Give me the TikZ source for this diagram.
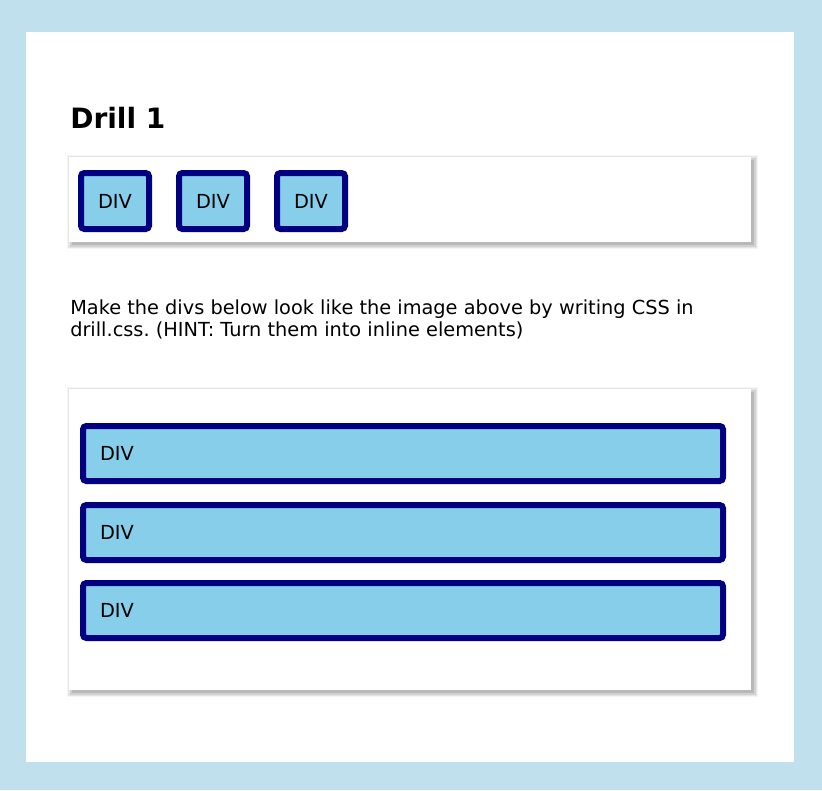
\documentclass[tikz,border=0pt]{standalone}
\usepackage{fontspec}
\setmainfont{DejaVu Sans}
\usepackage{xcolor}
\usetikzlibrary{positioning}
\definecolor{pagebg}{HTML}{C0E0EE}
\definecolor{navyline}{HTML}{000080}
\definecolor{skyfill}{HTML}{87CEEB}
\frenchspacing

\begin{document}
\begin{tikzpicture}[
    x=0.75pt, y=-0.75pt,
    divbox/.style={draw=navyline, fill=skyfill, line width=4.5pt, rounded corners=2.5pt, minimum width=51pt, minimum height=42pt, inner sep=0pt, font=\fontsize{14.5}{17}\selectfont},
    rowbox/.style={draw=navyline, fill=skyfill, line width=4.5pt, rounded corners=2.5pt, minimum height=41.25pt, text width=454.5pt, inner xsep=12.75pt, inner ysep=0pt, align=left, font=\fontsize{14.5}{17}\selectfont},
    body/.style={font=\fontsize{14.5}{16.5}\selectfont, align=left, inner sep=0pt}
]
% page
\useasboundingbox (0,0) rectangle (822,790);
\fill[pagebg] (0,0) rectangle (822,790);
\fill[white] (26,32) rectangle (794,762);

\node[anchor=base west, inner sep=0pt, font=\fontsize{21}{25}\bfseries] (title) at (70,128) {Drill 1};

% cards with soft shadow
\foreach \top/\bot in {157/242, 389/690} {
  \fill[black!4] (67,\top-2) rectangle (758,\bot+7);
  \fill[black!10] (68,\top-1) rectangle (757,\bot+6);
  \fill[black!18] (70,\top+1) rectangle (756,\bot+5);
  \fill[black!28] (72,\top+3) rectangle (754,\bot+3);
  \fill[white] (69,\top) rectangle (751,\bot);
}

% inline divs
\node[divbox] (div1) at (115,201) {DIV};
\node[divbox, right=18pt of div1] (div2) {DIV};
\node[divbox, right=18pt of div2] (div3) {DIV};

\node[body, anchor=base west] (hint) at (70,336) {Make the divs below look like the image above by writing CSS in\\drill.css. (HINT: Turn them into inline elements)};

% block divs
\node[rowbox] (row1) at (403,453.5) {DIV};
\node[rowbox] (row2) at (403,532.5) {DIV};
\node[rowbox] (row3) at (403,610.5) {DIV};
\end{tikzpicture}
\end{document}
